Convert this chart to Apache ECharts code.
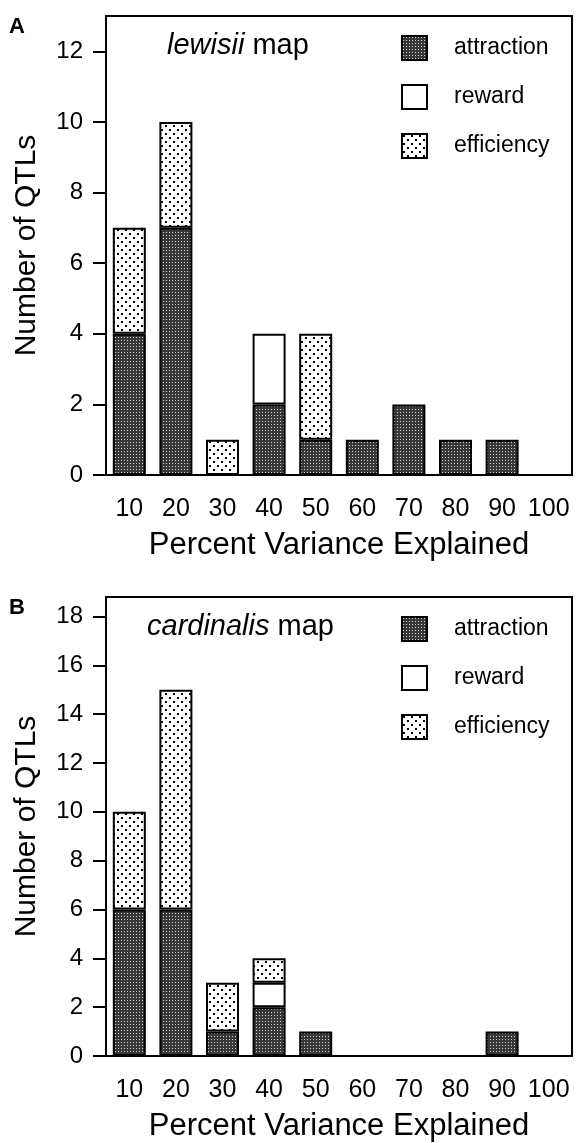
<!DOCTYPE html>
<html>
<head>
<meta charset="utf-8">
<script src="https://cdn.jsdelivr.net/npm/echarts@6/dist/echarts.min.js"></script>
<style>
  html, body { margin: 0; padding: 0; background: #fff; }
  #chart { width: 576px; height: 1143px; }
</style>
</head>
<body>
<div id="chart"></div>
<script>
// bins (% variance explained)
const categories = ['10', '20', '30', '40', '50', '60', '70', '80', '90', '100']

// panel A - lewisii map
const lewisiiAttraction = [4, 7, 0, 2, 1, 1, 2, 1, 1, 0]
const lewisiiReward     = [0, 0, 0, 2, 0, 0, 0, 0, 0, 0]
const lewisiiEfficiency = [3, 3, 1, 0, 3, 0, 0, 0, 0, 0]

// panel B - cardinalis map
const cardinalisAttraction = [6, 6, 1, 2, 1, 0, 0, 0, 1, 0]
const cardinalisReward     = [0, 0, 0, 1, 0, 0, 0, 0, 0, 0]
const cardinalisEfficiency = [4, 9, 2, 1, 0, 0, 0, 0, 0, 0]

const yTicksA = [0, 2, 4, 6, 8, 10, 12]
const yTicksB = [0, 2, 4, 6, 8, 10, 12, 14, 16, 18]

const FONT = 'Liberation Sans, Arial, sans-serif'

// fill textures like the printed figure
function makePattern(size, bg, dots) {
  const c = document.createElement('canvas')
  c.width = size
  c.height = size
  const ctx = c.getContext('2d')
  ctx.fillStyle = bg
  ctx.fillRect(0, 0, size, size)
  dots.forEach(d => {
    ctx.fillStyle = d[3]
    ctx.fillRect(d[0], d[1], d[2], d[2])
  })
  return { image: c, repeat: 'repeat' }
}

const attractionFill = makePattern(3, '#383838', [[1, 1, 1, '#d0d0d0']])
const efficiencyFill = makePattern(8, '#fff', [[1, 1, 2, '#000'], [5, 5, 2, '#000']])
const rewardFill = '#fff'

const nz = arr => arr.map(v => (v === 0 ? null : v))

const panels = [
  { name: 'lewisii', label: 'A', top: 16, height: 459, max: 13, ticks: yTicksA, titleLeft: 162,
    attraction: lewisiiAttraction, reward: lewisiiReward, efficiency: lewisiiEfficiency },
  { name: 'cardinalis', label: 'B', top: 597, height: 461, max: 18.8, ticks: yTicksB, titleLeft: 142,
    attraction: cardinalisAttraction, reward: cardinalisReward, efficiency: cardinalisEfficiency }
]

const grid = panels.map(p => ({
  left: 106, width: 466, top: p.top, height: p.height,
  show: true, borderColor: '#000', borderWidth: 2, backgroundColor: 'transparent'
}))

const xAxis = panels.map((p, i) => ({
  type: 'category',
  gridIndex: i,
  data: categories,
  axisLine: { lineStyle: { color: '#000', width: 2 } },
  axisTick: { alignWithLabel: true, length: 13, lineStyle: { color: '#000', width: 2 } },
  axisLabel: { interval: 0, color: '#000', fontSize: 25, fontFamily: FONT, margin: 22 },
  name: 'Percent Variance Explained',
  nameLocation: 'middle',
  nameGap: 55,
  nameTextStyle: { color: '#000', fontSize: 31, fontFamily: FONT }
}))

const yAxis = panels.map((p, i) => ({
  type: 'value',
  gridIndex: i,
  min: 0,
  max: p.max,
  interval: 2,
  splitLine: { show: false },
  axisLine: { show: true, lineStyle: { color: '#000', width: 2 } },
  axisTick: { show: true, length: 13, customValues: p.ticks, lineStyle: { color: '#000', width: 2 } },
  axisLabel: { color: '#000', fontSize: 24, fontFamily: FONT, margin: 23, customValues: p.ticks },
  name: 'Number of QTLs',
  nameLocation: 'middle',
  nameRotate: 90,
  nameGap: 64,
  nameTextStyle: { color: '#000', fontSize: 30, fontFamily: FONT }
}))

const series = []
panels.forEach((p, i) => {
  const base = {
    type: 'bar',
    xAxisIndex: i,
    yAxisIndex: i,
    stack: 'panel' + i,
    barWidth: 33,
    animation: false
  }
  series.push(Object.assign({}, base, {
    name: 'attraction', data: nz(p.attraction),
    itemStyle: { color: attractionFill, borderColor: '#000', borderWidth: 2 }
  }))
  series.push(Object.assign({}, base, {
    name: 'reward', data: nz(p.reward),
    itemStyle: { color: rewardFill, borderColor: '#000', borderWidth: 2 }
  }))
  series.push(Object.assign({}, base, {
    name: 'efficiency', data: nz(p.efficiency),
    itemStyle: { color: efficiencyFill, borderColor: '#000', borderWidth: 2 }
  }))
})

const legend = panels.map(p => ({
  orient: 'vertical',
  left: 396,
  top: p.top + 14,
  itemWidth: 25,
  itemHeight: 24,
  itemGap: 23,
  selectedMode: false,
  icon: 'rect',
  itemStyle: { borderColor: '#000', borderWidth: 2 },
  textStyle: { color: '#000', fontSize: 23, lineHeight: 24, fontFamily: FONT, padding: [0, 0, 0, 22] },
  data: ['attraction', 'reward', 'efficiency']
}))

const title = panels.map(p => ({
  text: p.label, left: 4, top: p.top - 5,
  textStyle: { fontSize: 22, fontWeight: 'bold', color: '#000', fontFamily: FONT }
})).concat(panels.map(p => ({
  text: '{i|' + p.name + '} map',
  left: p.titleLeft,
  top: p.top + 10,
  textStyle: {
    fontSize: 29, fontWeight: 'normal', color: '#000', fontFamily: FONT,
    rich: { i: { fontStyle: 'italic', fontSize: 29, color: '#000', fontFamily: FONT } }
  }
})))

const chart = echarts.init(document.getElementById('chart'), null, { renderer: 'canvas' })
chart.setOption({
  backgroundColor: '#fff',
  animation: false,
  title,
  legend,
  grid,
  xAxis,
  yAxis,
  series
})
</script>
</body>
</html>
